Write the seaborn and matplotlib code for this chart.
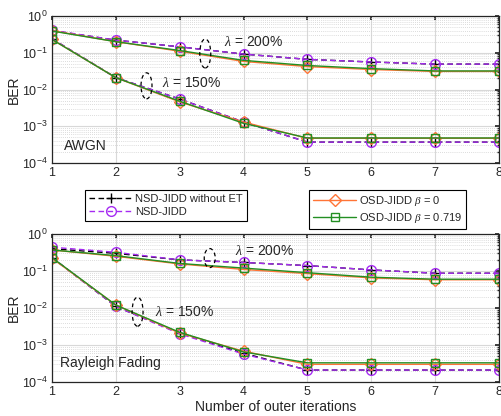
import numpy as np
import pandas as pd
import matplotlib
matplotlib.use("Agg")
import matplotlib.pyplot as plt
import seaborn as sns
from matplotlib.patches import Ellipse
from matplotlib.lines import Line2D

sns.set_theme(style="white")
plt.rcParams['font.family'] = ['Liberation Sans', 'DejaVu Sans']
plt.rcParams['mathtext.fontset'] = 'custom'
plt.rcParams['mathtext.it'] = 'Liberation Serif:italic'

iterations = [1, 2, 3, 4, 5, 6, 7, 8]

# AWGN, lambda = 200%
awgn200_noet = [0.40, 0.22, 0.145, 0.092, 0.066, 0.056, 0.049, 0.049]
awgn200_nsd = [0.41, 0.22, 0.145, 0.092, 0.066, 0.056, 0.049, 0.049]
awgn200_osd0 = [0.40, 0.20, 0.110, 0.058, 0.042, 0.035, 0.031, 0.031]
awgn200_osd719 = [0.39, 0.20, 0.115, 0.062, 0.045, 0.037, 0.032, 0.032]
# AWGN, lambda = 150%
awgn150_noet = [0.24, 0.021, 0.0055, 0.0013, 0.00037, 0.00037, 0.00037, 0.00037]
awgn150_nsd = [0.24, 0.021, 0.0055, 0.0013, 0.00037, 0.00037, 0.00037, 0.00037]
awgn150_osd0 = [0.23, 0.021, 0.0046, 0.0013, 0.00047, 0.00047, 0.00047, 0.00047]
awgn150_osd719 = [0.23, 0.021, 0.0048, 0.0012, 0.00048, 0.00048, 0.00048, 0.00048]
# Rayleigh, lambda = 200%
ray200_noet = [0.40, 0.30, 0.20, 0.17, 0.14, 0.107, 0.087, 0.087]
ray200_nsd = [0.44, 0.32, 0.20, 0.17, 0.14, 0.107, 0.087, 0.087]
ray200_osd0 = [0.37, 0.25, 0.155, 0.11, 0.085, 0.065, 0.058, 0.058]
ray200_osd719 = [0.37, 0.26, 0.16, 0.12, 0.090, 0.068, 0.060, 0.060]
# Rayleigh, lambda = 150%
ray150_noet = [0.23, 0.011, 0.0021, 0.00060, 0.00021, 0.00021, 0.00021, 0.00021]
ray150_nsd = [0.23, 0.011, 0.0020, 0.00057, 0.00021, 0.00021, 0.00021, 0.00021]
ray150_osd0 = [0.22, 0.012, 0.0021, 0.00068, 0.00030, 0.00030, 0.00030, 0.00030]
ray150_osd719 = [0.23, 0.012, 0.0022, 0.00065, 0.00033, 0.00033, 0.00033, 0.00033]

labels = ["NSD-JIDD without ET", "NSD-JIDD", r"OSD-JIDD $\beta$ = 0", r"OSD-JIDD $\beta$ = 0.719"]
colors = ["black", "#A62BF2", "#FF7436", "#238F23"]
markers = ['+', 'o', 'D', 's']
lstyles = [(0, (4, 2.5)), (0, (4, 2.5)), '-', '-']
msizes = [7, 7, 6, 5.5]


def style(i):
    return dict(marker=markers[i], linestyle=lstyles[i], markerfacecolor='none',
                markeredgecolor=colors[i], markersize=msizes[i], markeredgewidth=1.0)


fig = plt.figure(figsize=(5.01, 4.16), dpi=100)
ax1 = fig.add_axes([52 / 501, 1 - 163 / 416, 447 / 501, 147 / 416])
ax2 = fig.add_axes([52 / 501, 1 - 382 / 416, 447 / 501, 148 / 416])

panels = [
    (ax1, [awgn200_noet, awgn200_nsd, awgn200_osd0, awgn200_osd719],
          [awgn150_noet, awgn150_nsd, awgn150_osd0, awgn150_osd719]),
    (ax2, [ray200_noet, ray200_nsd, ray200_osd0, ray200_osd719],
          [ray150_noet, ray150_nsd, ray150_osd0, ray150_osd719]),
]

for ax, s200, s150 in panels:
    ax.set_yscale('log')
    for group in (s200, s150):
        for i in range(4):
            df = pd.DataFrame({"it": iterations, "ber": group[i]})
            sns.lineplot(data=df, x="it", y="ber", ax=ax, color=colors[i],
                         lw=1.0, legend=False, **style(i))
    ax.set_xlim(1, 8)
    ax.set_ylim(1e-4, 1)
    ax.set_xticks(iterations)
    ax.set_yticks([1e-4, 1e-3, 1e-2, 1e-1, 1])
    ax.grid(True, which='major', color='#d8d8d8', lw=0.8)
    ax.grid(True, which='minor', axis='y', color='#d0d0d0', lw=0.6, linestyle=(0, (1, 1.5)))
    ax.set_axisbelow(True)
    for sp in ax.spines.values():
        sp.set_color('#262626')
        sp.set_linewidth(0.9)
    ax.tick_params(which='both', direction='in', top=True, right=True, length=3,
                   labelsize=9, colors='#262626', pad=3)
    ax.tick_params(which='minor', length=1.5)
    ax.set_ylabel("BER", fontsize=10, color='#262626', labelpad=1)
    ax.set_xlabel("")


def ellipse(ax, x, y, w_px, h_px):
    cx, cy = (ax.transData + ax.transAxes.inverted()).transform((x, y))
    bbox = ax.get_position()
    w = w_px / (bbox.width * 501)
    h = h_px / (bbox.height * 416)
    ax.add_patch(Ellipse((cx, cy), w, h, transform=ax.transAxes, fill=False,
                         ls=(0, (3, 2.5)), lw=0.9, color='black', zorder=5))


fs_ann = 10
# AWGN annotations
ellipse(ax1, 3.40, 10 ** -1.02, 11, 29)
ax1.text(3.70, 0.20, r"$\lambda$ = 200%", fontsize=fs_ann, va='center', ha='left')
ellipse(ax1, 2.48, 10 ** -1.90, 11, 26)
ax1.text(2.72, 0.015, r"$\lambda$ = 150%", fontsize=fs_ann, va='center', ha='left')
ax1.text(1.18, 10 ** -3.55, "AWGN", fontsize=fs_ann, va='center', ha='left')

# Rayleigh annotations
ellipse(ax2, 3.47, 10 ** -0.65, 11, 19)
ax2.text(3.87, 10 ** -0.45, r"$\lambda$ = 200%", fontsize=fs_ann, va='center', ha='left')
ellipse(ax2, 2.34, 10 ** -2.1, 11, 29)
ax2.text(2.61, 10 ** -2.1, r"$\lambda$ = 150%", fontsize=fs_ann, va='center', ha='left')
ax2.text(1.13, 10 ** -3.5, "Rayleigh Fading", fontsize=fs_ann, va='center', ha='left')

ax2.set_xlabel("Number of outer iterations", fontsize=10, color='#262626', labelpad=1)

handles = [Line2D([], [], color=colors[i], lw=1.0, **style(i)) for i in range(4)]
common = dict(loc='upper left', fontsize=8, frameon=True, fancybox=False, edgecolor='black',
              handlelength=3.9, handletextpad=0.25, borderpad=0.35, labelspacing=0.3,
              borderaxespad=0)
leg1 = fig.legend(handles[:2], labels[:2], bbox_to_anchor=(85 / 501, 1 - 190 / 416), **common)
leg2 = fig.legend(handles[2:], labels[2:], bbox_to_anchor=(309 / 501, 1 - 190 / 416), **common)
for lg in (leg1, leg2):
    lg.get_frame().set_linewidth(0.8)
    lg.get_frame().set_alpha(1)

fig.savefig("out.png", dpi=100)
